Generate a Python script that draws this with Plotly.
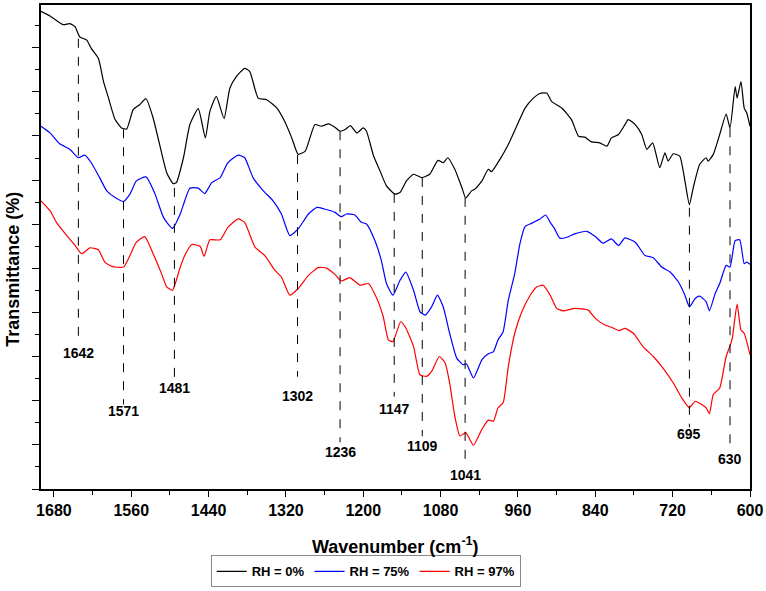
import plotly.graph_objects as go

# ---- Data (wavenumber in cm-1, transmittance in arbitrary offset units) ----
wn_0 = [1700, 1686, 1666, 1655, 1647, 1640, 1629, 1622, 1611, 1603, 1596, 1585, 1575, 1567, 1557, 1547,
        1537, 1526, 1516, 1505, 1495, 1490, 1479, 1469, 1456, 1445, 1438, 1428, 1416, 1407, 1397, 1384,
        1376, 1363, 1350, 1334, 1322, 1311, 1301, 1290, 1275, 1265, 1254, 1244, 1236, 1228, 1220, 1210,
        1200, 1195, 1184, 1174, 1164, 1151, 1143, 1133, 1122, 1109, 1097, 1084, 1076, 1069, 1058, 1047,
        1041, 1032, 1027, 1016, 1006, 1001, 988, 975, 962, 949, 936, 926, 915, 908, 892, 877, 866, 856,
        846, 833, 822, 815, 804, 794, 789, 778, 768, 760, 751, 740, 732, 727, 719, 709, 701, 694, 688,
        678, 668, 665, 657, 647, 637, 631, 623, 620, 614, 609, 605, 600]
t_0 = [480.7, 476, 467.3, 468.3, 465, 455, 451.7, 443.3, 433.3, 410, 395, 371.7, 363.3, 362.3, 381.7, 386.7,
       392.7, 373.3, 346.7, 318.3, 307.3, 308.3, 333.3, 366.7, 382.7, 353.3, 380, 395, 372.7, 403.3, 415, 423.3,
       420, 393.3, 391.7, 383.3, 370, 353.3, 336.7, 340, 366.7, 365, 367.3, 364, 360, 361.7, 365.7, 358.3,
       363.3, 360, 335, 320, 305, 296.7, 298.3, 310, 316.7, 313.3, 316.7, 330.7, 328.3, 333.3, 321.7, 303.3,
       292.7, 300, 301.7, 310, 321.7, 319.3, 331.7, 346.7, 365, 383.3, 393.3, 398, 398.3, 390, 383.3, 371.7, 355, 354,
       349.3, 348.3, 345, 353.3, 356.7, 366.7, 371.7, 366.7, 356.7, 341.7, 348.3, 323.3, 338.3, 330, 337.3, 335, 310, 286, 303.3,
       326.7, 333.3, 330, 336.7, 356.7, 377.3, 363.3, 405, 393.3, 410, 383.3, 378.3, 365]

wn_75 = [1700, 1686, 1671, 1655, 1642, 1632, 1622, 1609, 1598, 1585, 1572, 1562, 1552, 1537, 1523, 1510,
         1496, 1484, 1477, 1469, 1456, 1446, 1435, 1422, 1410, 1394, 1384, 1371, 1355, 1340, 1327, 1314,
         1301, 1285, 1272, 1260, 1244, 1234, 1226, 1213, 1203, 1195, 1182, 1172, 1164, 1154, 1143, 1134,
         1122, 1112, 1104, 1094, 1085, 1076, 1066, 1055, 1045, 1040, 1029, 1016, 1006, 998, 991, 983, 975,
         965, 957, 949, 939, 926, 917, 910, 903, 895, 884, 872, 853, 840, 828, 815, 804, 794, 778, 763,
         750, 737, 724, 711, 701, 694, 685, 678, 668, 663, 654, 647, 637, 631, 623, 616, 609, 605, 600]
t_75 = [365, 358.3, 347.3, 341.7, 333.3, 336, 328.3, 313.3, 300, 293.3, 289.3, 296.7, 310, 314, 296.7, 273.3,
        262.3, 276.7, 290, 302.7, 302.7, 297.3, 308.3, 313.3, 328.3, 336, 333.3, 313.3, 300, 290, 276.7, 255,
        261.7, 276.7, 283.3, 281.7, 278.3, 274, 276.7, 275.7, 268.3, 266.7, 250, 230, 206.7, 195, 210, 218.3,
        200, 178.3, 175, 183.3, 195, 183.3, 156.7, 131.7, 125, 126, 111.7, 130, 136, 138.3, 150, 158.3, 190,
        216.7, 246.7, 264, 267.3, 271.7, 275.7, 268.3, 261.7, 252.3, 253.3, 256.7, 259.3, 254, 247.3, 251.7, 245, 252.7, 248.3, 235,
        232.7, 223.3, 218.3, 208.3, 195, 183.3, 191.7, 194, 188.3, 179.3, 196.7, 206.7, 225, 223.3, 250, 250.7, 226.7, 228.3, 226]

wn_97 = [1700, 1686, 1676, 1660, 1647, 1637, 1624, 1611, 1601, 1590, 1572, 1562, 1552, 1539, 1526, 1513,
         1505, 1496, 1484, 1477, 1466, 1453, 1447, 1438, 1422, 1410, 1394, 1384, 1368, 1353, 1337, 1327,
         1314, 1301, 1285, 1270, 1257, 1244, 1234, 1221, 1205, 1192, 1179, 1169, 1161, 1154, 1142, 1135,
         1122, 1112, 1102, 1094, 1082, 1073, 1066, 1058, 1050, 1041, 1029, 1016, 1006, 998, 991, 983, 975,
         965, 954, 941, 931, 921, 910, 900, 890, 872, 851, 840, 825, 815, 803, 794, 781, 766, 750, 735,
         719, 706, 694, 685, 675, 668, 663, 657, 647, 637, 628, 620, 614, 609, 600]
t_97 = [290, 280, 268.3, 255, 245, 236.7, 242.7, 240.7, 228.3, 224, 223.3, 235, 248.3, 254, 236.7, 216.7,
        203.3, 200, 223.3, 235, 246, 244, 234, 250.7, 250.7, 263.3, 271.7, 268.3, 243.3, 235, 220, 213.3,
        195, 201.7, 215, 222.7, 222.3, 216, 209.3, 212.7, 205, 206.7, 191.7, 173.3, 150, 148.3, 168.3, 163.3,
        143.3, 115, 113.3, 118.3, 133.3, 126.7, 106.7, 73.3, 53.3, 56.7, 44, 60, 69.3, 68.3, 81.7, 86.7, 123.3,
        156.7, 178.3, 195, 203.3, 205, 195, 181.7, 179.3, 181.7, 180, 171.7, 165, 162.7, 159.3, 161.7, 156.7, 143.3, 133.3, 121.7,
        106.7, 91.7, 81.7, 88.3, 85, 81.7, 75.7, 95, 101.7, 133.3, 150, 186, 160, 156.7, 135]

series_names = ["RH = 0%", "RH = 75%", "RH = 97%"]
series_colors = ["#000000", "#0000FF", "#FF0000"]

# Peak markers: label text, dashed line x position, line top/bottom, label y
peak_labels = ["1642", "1571", "1481", "1302", "1236", "1147", "1109", "1041", "695", "630"]
peak_x = [1642, 1572, 1493, 1302, 1236, 1152, 1108.5, 1042, 694, 631]
peak_top = [453, 362, 303, 336, 360, 297, 313, 293, 283, 363]
peak_bottom = [147, 85, 110, 113, 47, 93, 53, 25, 62, 37]
peak_label_y = [137, 78, 102, 94, 37, 80, 43, 14, 55, 30]

x_ticks = [1680, 1560, 1440, 1320, 1200, 1080, 960, 840, 720, 600]

FONT = "Liberation Sans, Arial, sans-serif"

fig = go.Figure()
for wn, t, name, col in zip([wn_0, wn_75, wn_97], [t_0, t_75, t_97], series_names, series_colors):
    fig.add_trace(go.Scatter(x=wn, y=t, mode="lines", name="<b>%s</b>" % name,
                             line=dict(color=col, width=1.2, shape="spline", smoothing=0.5)))

shapes = []
annotations = []
for lab, px, y0, y1, ly in zip(peak_labels, peak_x, peak_top, peak_bottom, peak_label_y):
    shapes.append(dict(type="line", xref="x", yref="y", x0=px, x1=px, y0=y0, y1=y1,
                       line=dict(color="#000000", width=1, dash="dash")))
    annotations.append(dict(x=px, y=ly, xref="x", yref="y", text="<b>%s</b>" % lab,
                            showarrow=False, font=dict(family=FONT, size=14, color="#000000"),
                            xanchor="center", yanchor="middle"))

annotations.append(dict(x=0.5, y=-0.117, xref="paper", yref="paper",
                        text="<b>Wavenumber (cm<sup>-1</sup>)</b>", showarrow=False,
                        font=dict(family=FONT, size=18, color="#000000"),
                        xanchor="center", yanchor="middle"))
annotations.append(dict(x=-0.0395, y=0.455, xref="paper", yref="paper",
                        text="<b>Transmittance (%)</b>", showarrow=False, textangle=-90,
                        font=dict(family=FONT, size=18, color="#000000"),
                        xanchor="center", yanchor="middle"))

fig.update_layout(
    width=766, height=591,
    margin=dict(l=41, r=16, t=3, b=101),
    paper_bgcolor="white", plot_bgcolor="white",
    showlegend=True,
    legend=dict(orientation="h", x=0.458, y=-0.2033, xanchor="center", yanchor="bottom",
                bordercolor="#888888", borderwidth=1, bgcolor="white",
                font=dict(family=FONT, size=13, color="#000000"),
                itemwidth=30, tracegroupgap=0),
    shapes=shapes,
    annotations=annotations,
)
fig.update_xaxes(range=[1700, 600], showgrid=False, zeroline=False,
                 showline=True, linecolor="#000000", linewidth=1.5, mirror=True,
                 ticks="outside", ticklen=6, tickwidth=1.2, tickcolor="#000000",
                 tickvals=x_ticks, ticktext=["<b>%d</b>" % v for v in x_ticks],
                 tickfont=dict(family=FONT, size=16, color="#000000"),
                 minor=dict(ticks="outside", dtick=60, tick0=600, ticklen=4, tickwidth=1.2, tickcolor="#000000"))
fig.update_yaxes(range=[0, 487], showgrid=False, zeroline=False,
                 showline=True, linecolor="#000000", linewidth=1.5, mirror=True,
                 ticks="outside", ticklen=7, tickwidth=1.2, tickcolor="#000000",
                 tick0=0, dtick=44.4, showticklabels=False,
                 minor=dict(ticks="outside", dtick=22.2, tick0=0, ticklen=4, tickwidth=1.2, tickcolor="#000000"))

fig.write_html("out.html", config={"displayModeBar": False},
               post_script="document.body.style.margin='0';document.body.style.overflow='hidden';")
